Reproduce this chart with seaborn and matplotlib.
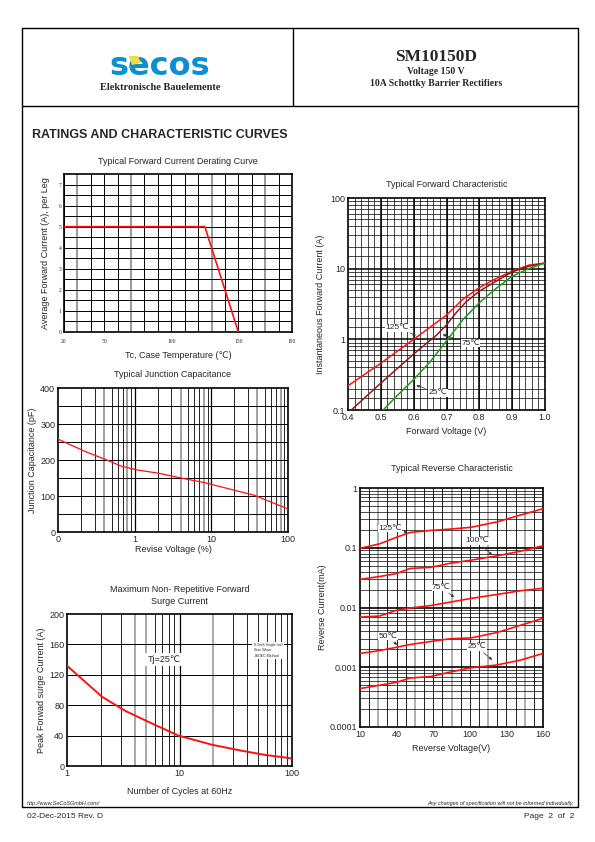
import numpy as np
import matplotlib
matplotlib.use("Agg")
import matplotlib.pyplot as plt
import seaborn as sns
from matplotlib.lines import Line2D
from matplotlib.patches import Polygon
from matplotlib.ticker import FixedLocator, NullFormatter

# ---------------- data ----------------
derate_temp = [20, 125, 150]
derate_amp = [5, 5, 0]

cap_volt = [0.1, 0.23, 0.41, 0.67, 1.1, 2.1, 3.6, 8.2, 20, 36.5, 100]
cap_pf = [258, 223, 202, 183, 172, 163, 152, 137, 116, 102, 64]

surge_cycles = [1, 2.05, 3.3, 4.5, 6.5, 9.8, 19.4, 36, 58, 100]
surge_amp = [132, 91, 72.5, 63, 52, 40, 28, 20, 14.5, 10]

fwd_v_125 = [0.40, 0.50, 0.60, 0.70, 0.75, 0.80, 0.85, 0.90, 0.95, 1.00]
fwd_i_125 = [0.22, 0.46, 1.0, 2.2, 3.7, 5.4, 7.2, 9.2, 11.2, 12.0]
fwd_v_75 = [0.41, 0.50, 0.60, 0.67, 0.70, 0.73, 0.76, 0.80, 0.85, 0.90, 0.95, 1.00]
fwd_i_75 = [0.1, 0.24, 0.62, 1.15, 1.6, 2.4, 3.4, 4.8, 6.6, 9.0, 10.8, 12.0]
fwd_v_25 = [0.507, 0.547, 0.60, 0.65, 0.70, 0.75, 0.80, 0.85, 0.90, 0.95, 1.00]
fwd_i_25 = [0.1, 0.155, 0.27, 0.48, 0.95, 1.9, 3.3, 5.2, 7.8, 10.0, 12.0]

rev_volt = [10, 26, 40, 51, 68, 84, 101, 122, 141, 160]
rev_125 = [0.098, 0.116, 0.15, 0.18, 0.195, 0.205, 0.22, 0.27, 0.35, 0.45]
rev_100 = [0.0296, 0.033, 0.037, 0.045, 0.047, 0.055, 0.062, 0.073, 0.087, 0.108]
rev_75 = [0.0069, 0.0072, 0.009, 0.0098, 0.0108, 0.0123, 0.0142, 0.0165, 0.019, 0.021]
rev_50 = [0.0017, 0.0019, 0.00216, 0.0024, 0.0027, 0.003, 0.0031, 0.0038, 0.005, 0.0066]
rev_25 = [0.00044, 0.0005, 0.00056, 0.00066, 0.0007, 0.00083, 0.00098, 0.00109, 0.00131, 0.0017]

W, H = 595, 842
sns.set_style("white")
plt.rcParams["font.family"] = ["Liberation Sans", "DejaVu Sans"]
plt.rcParams["axes.linewidth"] = 1.2

fig = plt.figure(figsize=(W / 100, H / 100), dpi=100)


def px(x, y):
    return x / W, 1 - y / H


def make_ax(x0, y0, x1, y1):
    ax = fig.add_axes([x0 / W, 1 - y1 / H, (x1 - x0) / W, (y1 - y0) / H])
    for s in ax.spines.values():
        s.set_color("black")
        s.set_linewidth(1.2)
    ax.tick_params(length=0, pad=2, labelsize=6.5)
    return ax


def hline(x0, x1, y, lw=1.0):
    fig.add_artist(Line2D([x0 / W, x1 / W], [1 - y / H, 1 - y / H], color="black", lw=lw))


def vline(x, y0, y1, lw=1.0):
    fig.add_artist(Line2D([x / W, x / W], [1 - y0 / H, 1 - y1 / H], color="black", lw=lw))


# ---------------- page frame / header ----------------
hline(22, 578, 28)
hline(22, 578, 106)
hline(22, 578, 807)
vline(22, 28, 807)
vline(578, 28, 807)
vline(293, 28, 106)

fig.text(*px(160, 75), "secos", ha="center", va="baseline", fontsize=23, fontweight="heavy",
         color="#0a8fd2", family="DejaVu Sans")
fig.add_artist(Polygon([px(129, 56), px(138, 56), px(141, 63), px(132, 65)], closed=True,
                       facecolor="#f0dc40", edgecolor="none", transform=fig.transFigure, zorder=5))
fig.text(*px(160, 88), "Elektronische Bauelemente", ha="center", va="center", fontsize=7.5,
         fontweight="bold", family="Liberation Serif")
fig.text(*px(436, 57), "SM10150D", ha="center", va="center", fontsize=12.5,
         fontweight="bold", family="Liberation Serif")
fig.text(*px(436, 71), "Voltage 150 V", ha="center", va="center", fontsize=7,
         fontweight="bold", family="Liberation Serif")
fig.text(*px(436, 84), "10A Schottky Barrier Rectifiers", ha="center", va="center", fontsize=7,
         fontweight="bold", family="Liberation Serif")
fig.text(*px(32, 135), "RATINGS AND CHARACTERISTIC CURVES", ha="left", va="center",
         fontsize=9, fontweight="bold")

fig.text(*px(27, 803), "http://www.SeCoSGmbH.com/", ha="left", va="center", fontsize=4, style="italic")
fig.text(*px(574, 803), "Any changes of specification will not be informed individually.", ha="right",
         va="center", fontsize=4, style="italic")
fig.text(*px(27, 817), "02-Dec-2015 Rev. D", ha="left", va="center", fontsize=6)
fig.text(*px(574, 817), "Page  2  of  2", ha="right", va="center", fontsize=6)

red = "#ff1010"

# ---------------- derating curve ----------------
ax = make_ax(64, 174, 292, 332)
for t in range(20, 191, 10):
    gray = t in (30, 70, 130, 170)
    ax.axvline(t, color="#9a9a9a" if gray else "black", lw=1.4 if gray else 0.7, zorder=1)
for a in np.arange(0.5, 7.5, 0.5):
    ax.axhline(a, color="black", lw=0.7, zorder=1)
sns.lineplot(x=derate_temp, y=derate_amp, ax=ax, color=red, lw=1.2, zorder=3)
ax.set_xlim(20, 190)
ax.set_ylim(0, 7.5)
ax.set_xticks([20, 50, 100, 150, 190])
ax.set_yticks(range(0, 8))
ax.tick_params(labelsize=4)
for lab in ax.get_xticklabels() + ax.get_yticklabels():
    lab.set_family("Liberation Serif")
ax.tick_params(axis="x", pad=5)
ax.set_title("Typical Forward Current Derating Curve", fontsize=6.5, pad=7)
ax.set_xlabel("Tc, Case Temperature (\u2103)", fontsize=6.5, labelpad=5)
ax.set_ylabel("Average Forward Current (A), per Leg", fontsize=6.5, labelpad=6)

# ---------------- junction capacitance ----------------
ax = make_ax(58, 388, 288, 532)
ax.set_xscale("log")
for dec in (0.1, 1, 10):
    for m in range(2, 10):
        gray = m in (4, 8)
        ax.axvline(dec * m, color="#9a9a9a" if gray else "black", lw=1.3 if gray else 0.6, zorder=1)
for d in (1, 10):
    ax.axvline(d, color="black", lw=0.9, zorder=1)
for c in range(50, 400, 50):
    ax.axhline(c, color="black", lw=0.7, zorder=1)
sns.lineplot(x=cap_volt, y=cap_pf, ax=ax, color=red, lw=0.9, zorder=3)
ax.set_xlim(0.1, 100)
ax.set_ylim(0, 400)
ax.xaxis.set_major_locator(FixedLocator([0.1, 1, 10, 100]))
ax.xaxis.set_minor_formatter(NullFormatter())
ax.set_xticklabels(["0", "1", "10", "100"])
ax.set_yticks([0, 100, 200, 300, 400])
ax.tick_params(which="both", length=0, labelsize=6.5)
ax.set_title("Typical Junction Capacitance", fontsize=6.5, pad=8)
ax.set_xlabel("Revise Voltage (%)", fontsize=6.5, labelpad=1)
ax.set_ylabel("Junction Capacitance (pF)", fontsize=6.5, labelpad=2)

# ---------------- surge current ----------------
ax = make_ax(67, 614, 292, 766)
ax.set_xscale("log")
for dec in (1, 10):
    for m in range(2, 10):
        gray = (dec == 1 and m in (4, 5)) or (dec == 10 and m == 2)
        ax.axvline(dec * m, color="#9a9a9a" if gray else "black", lw=1.2 if gray else 0.6, zorder=1)
ax.axvline(10, color="black", lw=0.9, zorder=1)
for a in range(40, 200, 40):
    ax.axhline(a, color="black", lw=0.7, zorder=1)
sns.lineplot(x=surge_cycles, y=surge_amp, ax=ax, color=red, lw=1.4, zorder=3)
ax.set_xlim(1, 100)
ax.set_ylim(0, 200)
ax.xaxis.set_major_locator(FixedLocator([1, 10, 100]))
ax.xaxis.set_minor_formatter(NullFormatter())
ax.set_xticklabels(["1", "10", "100"])
ax.set_yticks(range(0, 201, 40))
ax.tick_params(which="both", length=0, labelsize=6.5)
ax.set_title("Maximum Non- Repetitive Forward\nSurge Current", fontsize=6.5, pad=7, linespacing=1.5)
ax.set_xlabel("Number of Cycles at 60Hz", fontsize=6.5, labelpad=7)
ax.set_ylabel("Peak Forwad surge Current (A)", fontsize=6.5, labelpad=2)
ax.text(5.2, 140, "Tj=25\u2103", fontsize=6.5, va="center", zorder=4,
        bbox=dict(facecolor="white", edgecolor="none", pad=1.5))
ax.text(46, 152, "8.3mS Single half\nSine Wave\nJEDEC Method", fontsize=2.6, va="center", zorder=4,
        linespacing=1.4, bbox=dict(facecolor="white", edgecolor="none", pad=1.2))

# ---------------- forward characteristic ----------------
ax = make_ax(348, 198, 545, 410)
ax.set_yscale("log")
for v in np.arange(0.42, 1.0, 0.02):
    ax.axvline(v, color="black", lw=0.5, zorder=1)
for v in (0.5, 0.6, 0.7, 0.8, 0.9):
    ax.axvline(v, color="black", lw=1.1, zorder=1)
for dec in (0.1, 1, 10):
    for m in range(2, 10):
        ax.axhline(dec * m, color="black", lw=0.5, zorder=1)
    ax.axhline(dec * 1.5, color="black", lw=0.5, zorder=1)
for d in (1, 10):
    ax.axhline(d, color="black", lw=1.1, zorder=1)
sns.lineplot(x=fwd_v_125, y=fwd_i_125, ax=ax, color=red, lw=1.1, zorder=3)
sns.lineplot(x=fwd_v_75, y=fwd_i_75, ax=ax, color="#8b1c1c", lw=1.1, zorder=3)
sns.lineplot(x=fwd_v_25, y=fwd_i_25, ax=ax, color="#1f9a1f", lw=1.1, zorder=3)
ax.set_xlim(0.4, 1.0)
ax.set_ylim(0.1, 100)
ax.set_xticks([0.4, 0.5, 0.6, 0.7, 0.8, 0.9, 1.0])
ax.set_xticklabels(["0.4", "0.5", "0.6", "0.7", "0.8", "0.9", "1.0"])
ax.yaxis.set_major_locator(FixedLocator([0.1, 1, 10, 100]))
ax.yaxis.set_minor_formatter(NullFormatter())
ax.set_yticklabels(["0.1", "1", "10", "100"])
ax.tick_params(which="both", length=0, labelsize=6.5)
ax.set_title("Typical Forward Characteristic", fontsize=6.5, pad=8)
ax.set_xlabel("Forward Voltage (V)", fontsize=6.5, labelpad=4)
ax.set_ylabel("Instantaneous Forward Current (A)", fontsize=6.5, labelpad=4)
arrow = dict(arrowstyle="-|>", color="#333333", lw=0.5, mutation_scale=4)
box = dict(facecolor="white", edgecolor="none", pad=0.3)
ax.annotate("125\u2103", xy=(0.615, 1.1), xytext=(0.515, 1.45), fontsize=6, arrowprops=arrow,
            va="center", bbox=box, zorder=5)
ax.annotate("75\u2103", xy=(0.68, 1.2), xytext=(0.745, 0.88), fontsize=6, arrowprops=arrow,
            va="center", bbox=box, zorder=5)
ax.annotate("25\u2103", xy=(0.6, 0.23), xytext=(0.645, 0.175), fontsize=6, arrowprops=arrow,
            va="center", bbox=box, zorder=5)

# ---------------- reverse characteristic ----------------
ax = make_ax(360, 488, 543, 727)
ax.set_yscale("log")
for i, v in enumerate(np.arange(17.5, 160, 7.5)):
    gray = i % 4 == 1
    ax.axvline(v, color="#9a9a9a" if gray else "black", lw=1.1 if gray else 0.6, zorder=1)
for dec in (1e-4, 1e-3, 1e-2, 1e-1):
    for m in range(2, 10):
        ax.axhline(dec * m, color="black", lw=0.5, zorder=1)
for d in (1e-3, 1e-2, 1e-1):
    ax.axhline(d, color="black", lw=1.2, zorder=1)
for vals in (rev_125, rev_100, rev_75, rev_50, rev_25):
    sns.lineplot(x=rev_volt, y=vals, ax=ax, color=red, lw=1.2, zorder=3)
ax.set_xlim(10, 160)
ax.set_ylim(1e-4, 1)
ax.set_xticks([10, 40, 70, 100, 130, 160])
ax.yaxis.set_major_locator(FixedLocator([1e-4, 1e-3, 1e-2, 1e-1, 1]))
ax.yaxis.set_minor_formatter(NullFormatter())
ax.set_yticklabels(["0.0001", "0.001", "0.01", "0.1", "1"])
ax.tick_params(which="both", length=0, labelsize=6.5)
ax.set_title("Typical Reverse Characteristic", fontsize=6.5, pad=12)
ax.set_xlabel("Reverse Voltage(V)", fontsize=6.5, labelpad=4)
ax.set_ylabel("Reverse Current(mA)", fontsize=6.5, labelpad=2)
ax.annotate("125\u2103", xy=(51, 0.175), xytext=(25, 0.21), fontsize=6, arrowprops=arrow,
            va="center", bbox=box, zorder=5)
ax.annotate("100\u2103", xy=(120, 0.07), xytext=(96, 0.13), fontsize=6, arrowprops=arrow,
            va="center", bbox=box, zorder=5)
ax.annotate("75\u2103", xy=(89, 0.014), xytext=(69, 0.0216), fontsize=6, arrowprops=arrow,
            va="center", bbox=box, zorder=5)
ax.annotate("50\u2103", xy=(42, 0.0022), xytext=(25, 0.0033), fontsize=6, arrowprops=arrow,
            va="center", bbox=box, zorder=5)
ax.annotate("25\u2103", xy=(120, 0.00124), xytext=(98, 0.0022), fontsize=6, arrowprops=arrow,
            va="center", bbox=box, zorder=5)

fig.savefig("out.png", dpi=100)
